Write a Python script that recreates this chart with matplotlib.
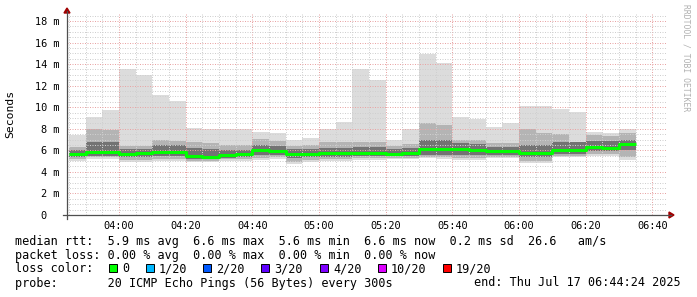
import numpy as np
import matplotlib.pyplot as plt
from matplotlib.patches import Rectangle, Polygon
from matplotlib.lines import Line2D

W, H = 697, 297
MONO = 'DejaVu Sans Mono'

# 5-minute rrd steps (start time of each step) and 20-ping smoke percentiles, ms
bar_start = ['03:45', '03:50', '03:55', '04:00', '04:05', '04:10', '04:15', '04:20',
             '04:25', '04:30', '04:35', '04:40', '04:45', '04:50', '04:55', '05:00',
             '05:05', '05:10', '05:15', '05:20', '05:25', '05:30', '05:35', '05:40',
             '05:45', '05:50', '05:55', '06:00', '06:05', '06:10', '06:15', '06:20',
             '06:25', '06:30']
ping_max = [7.4, 9.1, 9.7, 13.5, 13.0, 11.1, 10.6, 8.1, 8.0, 8.0, 8.0, 7.7, 7.6, 7.0,
            7.1, 8.0, 8.6, 13.5, 12.5, 7.0, 8.0, 14.9, 14.1, 9.1, 8.9, 8.2, 8.5, 10.1,
            10.1, 9.8, 9.6, 7.7, 7.6, 8.0]
ping_p90 = [6.3, 8.0, 7.9, 6.4, 6.4, 6.96, 6.9, 6.8, 6.7, 6.5, 6.5, 7.05, 6.9, 6.4,
            6.5, 6.8, 6.8, 6.8, 6.8, 6.4, 6.6, 8.5, 8.35, 7.0, 7.0, 6.7, 6.7, 8.0,
            7.6, 7.5, 6.8, 7.4, 7.3, 7.6]
ping_p75 = [6.0, 6.8, 6.8, 6.1, 6.1, 6.5, 6.5, 6.2, 6.1, 6.0, 6.0, 6.5, 6.4, 6.1,
            6.1, 6.2, 6.2, 6.3, 6.3, 6.1, 6.2, 7.0, 7.0, 6.65, 6.6, 6.3, 6.3, 6.5,
            6.5, 6.8, 6.8, 6.9, 6.9, 7.0]
ping_med = [5.7, 5.87, 5.87, 5.7, 5.73, 5.85, 5.87, 5.5, 5.42, 5.6, 5.66, 6.0, 5.95,
            5.7, 5.7, 5.72, 5.72, 5.75, 5.75, 5.7, 5.78, 6.1, 6.1, 6.12, 6.05, 5.94,
            5.94, 5.78, 5.78, 6.0, 6.0, 6.28, 6.25, 6.56]
ping_p25 = [5.4, 5.5, 5.45, 5.4, 5.4, 5.5, 5.5, 5.2, 5.15, 5.3, 5.35, 5.6, 5.6, 5.3,
            5.35, 5.4, 5.4, 5.45, 5.45, 5.45, 5.5, 5.6, 5.6, 5.6, 5.55, 5.6, 5.6, 5.4,
            5.4, 5.7, 5.7, 5.9, 5.9, 6.0]
ping_p10 = [5.2, 5.35, 5.35, 5.1, 5.1, 5.2, 5.2, 5.05, 5.0, 5.15, 5.15, 5.3, 5.35,
            4.95, 5.1, 5.15, 5.15, 5.25, 5.25, 5.3, 5.3, 5.4, 5.35, 5.3, 5.3, 5.4, 5.4,
            5.05, 5.05, 5.5, 5.5, 5.65, 5.65, 5.4]
ping_min = [5.0, 5.2, 5.2, 4.9, 4.9, 5.0, 5.0, 4.9, 4.9, 5.0, 5.0, 5.1, 5.2, 4.7,
            4.9, 5.0, 5.0, 5.1, 5.1, 5.2, 5.2, 5.25, 5.2, 5.1, 5.1, 5.25, 5.25, 4.85,
            4.85, 5.4, 5.4, 5.5, 5.5, 5.1]

x_ticks = ['04:00', '04:20', '04:40', '05:00', '05:20', '05:40', '06:00', '06:20', '06:40']
y_ticks = [0, 2, 4, 6, 8, 10, 12, 14, 16, 18]
t_from, t_to = '03:44:24', '06:44:24'
step_min = 5

loss_labels = ['0', '1/20', '2/20', '3/20', '4/20', '10/20', '19/20']
loss_colors = ['#00ff00', '#00b8ff', '#0059ff', '#5e00ff', '#7e00ff', '#dd00ff', '#ff0000']

legend_rows = [
    'median rtt:  5.9 ms avg  6.6 ms max  5.6 ms min  6.6 ms now  0.2 ms sd  26.6   am/s',
    'packet loss: 0.00 % avg  0.00 % max  0.00 % min  0.00 % now',
    'loss color:',
    'probe:       20 ICMP Echo Pings (56 Bytes) every 300s',
]
end_text = 'end: Thu Jul 17 06:44:24 2025'


def mins(s):
    p = [int(v) for v in s.split(':')]
    return p[0] * 60 + p[1] + (p[2] / 60 if len(p) > 2 else 0)


def fx(px):
    return px / W


def fy(py):
    return 1 - py / H


x0 = np.array([mins(s) for s in bar_start])
xmin, xmax = mins(t_from), mins(t_to)
ytop = 18.7

fig = plt.figure(figsize=(W / 100, H / 100), dpi=100)
ax = fig.add_axes([fx(67), fy(215), fx(667) - fx(67), (215 - 13.4) / H])

# smoke layers, outer (light) to inner (dark)
layers = [(ping_min, ping_max, '#dcdcdc'),
          (ping_p10, ping_p90, '#b4b4b4'),
          (ping_p25, ping_p75, '#737373')]
for lo, hi, c in layers:
    lo, hi = np.array(lo), np.array(hi)
    ax.bar(x0, hi - lo, bottom=lo, width=step_min, align='edge', color=c,
           linewidth=0, zorder=1)

# median rtt (0 loss -> green)
xs = np.append(x0, x0[-1] + step_min)
ys = np.append(ping_med, ping_med[-1])
ax.step(xs, ys, where='post', color=loss_colors[0], lw=2.2, zorder=4,
        solid_capstyle='butt')

ax.set_xlim(xmin, xmax)
ax.set_ylim(0, ytop)

# grid
xt = [mins(t) for t in x_ticks]
ax.set_xticks(xt)
ax.set_xticklabels(x_ticks)
ax.set_xticks(np.arange(mins('03:45'), xmax, 5), minor=True)
ax.set_yticks(y_ticks)
ax.set_yticklabels([f'{v} m' if v else '0  ' for v in y_ticks])
ax.set_yticks(np.arange(0, ytop, 0.5), minor=True)
ax.set_axisbelow(False)
ax.grid(which='minor', color='#cfcfcf', lw=0.72, ls=(0, (1, 1.5)), zorder=2)
ax.grid(which='major', color='#e8a4a4', lw=0.72, ls=(0, (1, 1.5)), zorder=3)
ax.tick_params(which='both', length=0)
ax.tick_params(axis='y', pad=5.5, labelsize=7.4)
ax.tick_params(axis='x', pad=4, labelsize=7.4)
for lab in ax.get_xticklabels() + ax.get_yticklabels():
    lab.set_family(MONO)
for sp in ax.spines.values():
    sp.set_visible(False)

# axes lines and arrows
axc = '#4f4f4f'
arr = '#a00000'
fig.add_artist(Line2D([fx(63), fx(671)], [fy(215), fy(215)], color=axc, lw=0.9))
fig.add_artist(Line2D([fx(67), fx(67)], [fy(219), fy(11)], color=axc, lw=0.9))
fig.add_artist(Polygon([(fx(64), fy(13)), (fx(70), fy(13)), (fx(67), fy(8))],
                       closed=True, color=arr, transform=fig.transFigure))
fig.add_artist(Polygon([(fx(669), fy(212)), (fx(669), fy(218)), (fx(674), fy(215))],
                       closed=True, color=arr, transform=fig.transFigure))

fig.text(fx(10.5), fy(114), 'Seconds', rotation=90, ha='center', va='center',
         family=MONO, fontsize=8.2)
fig.text(fx(686), fy(4), 'RRDTOOL / TOBI OETIKER', rotation=270, ha='center', va='top',
         family=MONO, fontsize=5.8, color='#b0b0b0')

# legend
baselines = [245, 258.7, 272.4, 286.5]
for txt, b in zip(legend_rows, baselines):
    fig.text(fx(15), fy(b), txt, family=MONO, fontsize=8.5, va='baseline', ha='left')
fig.text(fx(681), fy(baselines[3]), end_text, family=MONO, fontsize=8.5,
         va='baseline', ha='right')

sq_x = [109, 146, 203, 261, 320, 378, 443]
for lab, c, px in zip(loss_labels, loss_colors, sq_x):
    fig.add_artist(Rectangle((fx(px), fy(272)), 8 / W, 8 / H, facecolor=c,
                             edgecolor='black', lw=0.7, transform=fig.transFigure))
    fig.text(fx(px + 13), fy(baselines[2]), lab, family=MONO, fontsize=8.5,
             va='baseline', ha='left')

fig.savefig('out.png', dpi=100, facecolor='white')
